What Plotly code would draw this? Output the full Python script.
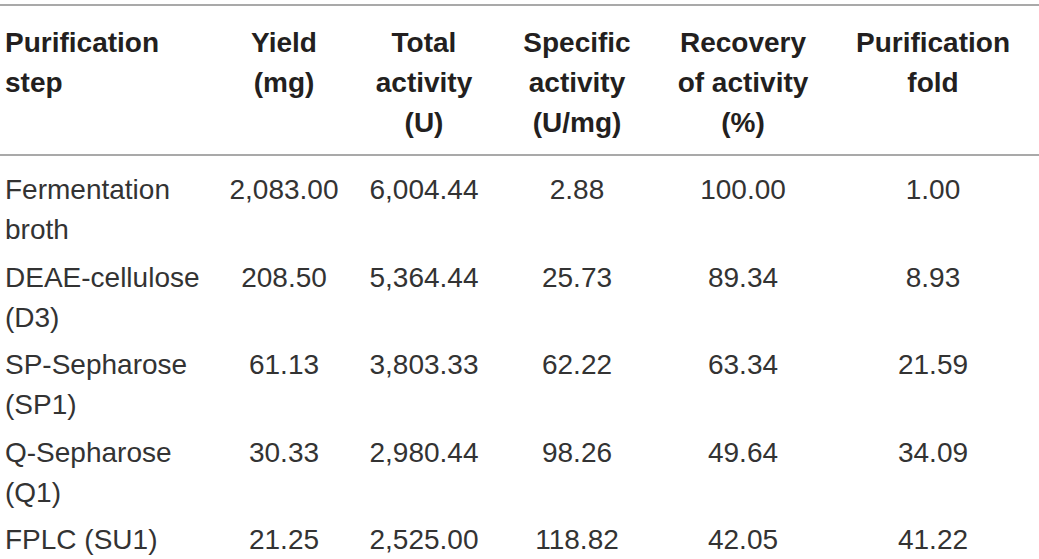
import plotly.graph_objects as go

# ── Table content ─────────────────────────────────────────────
HEADERS = [
    "Purification<br>step",
    "Yield<br>(mg)",
    "Total<br>activity<br>(U)",
    "Specific<br>activity<br>(U/mg)",
    "Recovery<br>of activity<br>(%)",
    "Purification<br>fold",
]
STEPS = [
    "Fermentation<br>broth",
    "DEAE-cellulose<br>(D3)",
    "SP-Sepharose<br>(SP1)",
    "Q-Sepharose<br>(Q1)",
    "FPLC (SU1)",
]
YIELD_MG = [2083.00, 208.50, 61.13, 30.33, 21.25]
TOTAL_ACTIVITY = [6004.44, 5364.44, 3803.33, 2980.44, 2525.00]
SPECIFIC_ACTIVITY = [2.88, 25.73, 62.22, 98.26, 118.82]
RECOVERY = [100.00, 89.34, 63.34, 49.64, 42.05]
FOLD = [1.00, 8.93, 21.59, 34.09, 41.22]

# ── Style / layout ────────────────────────────────────────────
W, H = 1039, 559
TEXT = "#231f20"
BODY_TEXT = "#333333"
RULE = "#8c8c8c"
FONT = "Liberation Sans, Arial, sans-serif"
SIZE = 28
COL_X = [5, 284, 424, 577, 743, 933]  # col 1 left edge, others centres
HEADER_TOP = 45
BODY_TOP = 192
ROW_PITCH = 87.5
LINE_GAP = 40


def fmt(v):
    return f"{v:,.2f}"


columns = [STEPS] + [[fmt(v) for v in col] for col in
                     (YIELD_MG, TOTAL_ACTIVITY, SPECIFIC_ACTIVITY, RECOVERY, FOLD)]

fig = go.Figure()

for c, (head, cells) in enumerate(zip(HEADERS, columns)):
    pos = "middle right" if c == 0 else "middle center"
    xs, ys, ts = [], [], []
    # header lines
    for k, line in enumerate(head.split("<br>")):
        xs.append(COL_X[c])
        ys.append(HEADER_TOP + k * LINE_GAP)
        ts.append(f"<b>{line}</b>")
    fig.add_trace(go.Scatter(
        x=xs, y=ys, text=ts, mode="text", textposition=pos,
        textfont=dict(family=FONT, size=SIZE, color=TEXT),
        hoverinfo="skip", showlegend=False,
    ))
    xs, ys, ts = [], [], []
    for r, cell in enumerate(cells):
        for k, line in enumerate(cell.split("<br>")):
            xs.append(COL_X[c])
            ys.append(BODY_TOP + r * ROW_PITCH + k * LINE_GAP)
            ts.append(line)
    fig.add_trace(go.Scatter(
        x=xs, y=ys, text=ts, mode="text", textposition=pos,
        textfont=dict(family=FONT, size=SIZE, color=BODY_TEXT),
        hoverinfo="skip", showlegend=False,
    ))

# horizontal rules: top of table and below header
for y in (5, 155):
    fig.add_shape(type="line", x0=0, x1=W, y0=y, y1=y,
                  xref="x", yref="y", line=dict(color=RULE, width=1.5))

fig.update_layout(
    width=W, height=H,
    margin=dict(l=0, r=0, t=0, b=0),
    plot_bgcolor="white",
    paper_bgcolor="white",
    xaxis=dict(range=[0, W], visible=False, fixedrange=True),
    yaxis=dict(range=[H, 0], visible=False, fixedrange=True),
)

# drop the default page margin so the table sits at the window corner
fig.write_html("out.html", config={"displayModeBar": False},
               post_script="document.body.style.margin='0';")
